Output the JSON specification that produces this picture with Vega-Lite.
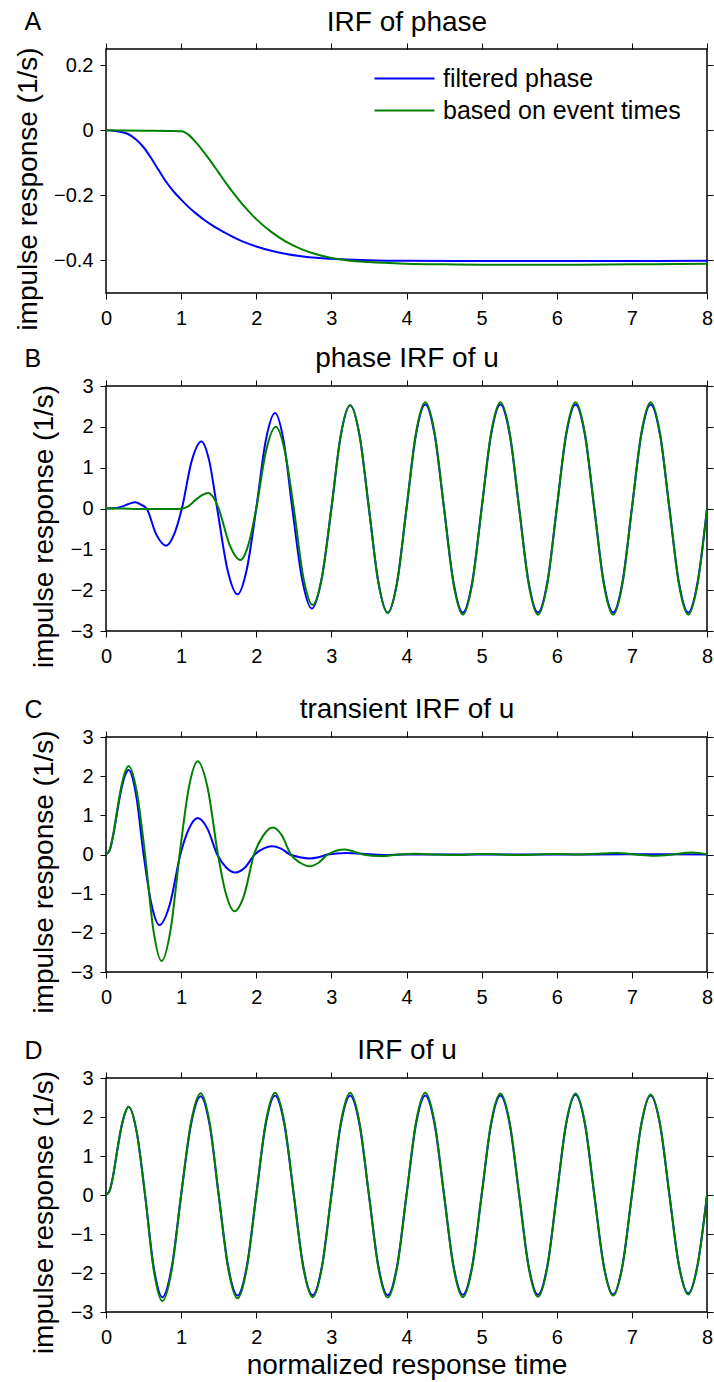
{
  "$schema": "https://vega.github.io/schema/vega-lite/v6.json",
  "padding": {"left": 13, "top": 7, "right": 0, "bottom": 0},
  "spacing": 12,
  "resolve": {"scale": {"color": "independent"}},
  "datasets": {
    "A": [
      {"s":"b","t":0,"v":0},{"s":"b","t":0.1,"v":-0.001},{"s":"b","t":0.2,"v":-0.005},{"s":"b","t":0.3,"v":-0.012},{"s":"b","t":0.4,"v":-0.028},{"s":"b","t":0.5,"v":-0.052},{"s":"b","t":0.6,"v":-0.085},{"s":"b","t":0.7,"v":-0.122},{"s":"b","t":0.8,"v":-0.158},{"s":"b","t":0.9,"v":-0.188},{"s":"b","t":1,"v":-0.213},{"s":"b","t":1.1,"v":-0.236},{"s":"b","t":1.2,"v":-0.256},{"s":"b","t":1.3,"v":-0.274},{"s":"b","t":1.4,"v":-0.29},{"s":"b","t":1.6,"v":-0.317},{"s":"b","t":1.8,"v":-0.34},{"s":"b","t":2,"v":-0.357},{"s":"b","t":2.2,"v":-0.37},{"s":"b","t":2.4,"v":-0.38},{"s":"b","t":2.6,"v":-0.387},{"s":"b","t":2.8,"v":-0.392},{"s":"b","t":3,"v":-0.395},{"s":"b","t":3.3,"v":-0.398},{"s":"b","t":3.6,"v":-0.4},{"s":"b","t":4,"v":-0.401},{"s":"b","t":5,"v":-0.402},{"s":"b","t":6,"v":-0.402},{"s":"b","t":7,"v":-0.402},{"s":"b","t":8,"v":-0.401},
      {"s":"g","t":0,"v":0},{"s":"g","t":0.5,"v":-0.001},{"s":"g","t":0.9,"v":-0.002},{"s":"g","t":1,"v":-0.003},{"s":"g","t":1.05,"v":-0.006},{"s":"g","t":1.1,"v":-0.014},{"s":"g","t":1.2,"v":-0.038},{"s":"g","t":1.3,"v":-0.066},{"s":"g","t":1.4,"v":-0.097},{"s":"g","t":1.5,"v":-0.13},{"s":"g","t":1.6,"v":-0.163},{"s":"g","t":1.7,"v":-0.194},{"s":"g","t":1.8,"v":-0.223},{"s":"g","t":1.9,"v":-0.249},{"s":"g","t":2,"v":-0.273},{"s":"g","t":2.2,"v":-0.312},{"s":"g","t":2.4,"v":-0.343},{"s":"g","t":2.6,"v":-0.365},{"s":"g","t":2.8,"v":-0.381},{"s":"g","t":3,"v":-0.392},{"s":"g","t":3.2,"v":-0.399},{"s":"g","t":3.5,"v":-0.405},{"s":"g","t":4,"v":-0.41},{"s":"g","t":4.5,"v":-0.412},{"s":"g","t":5,"v":-0.413},{"s":"g","t":6,"v":-0.413},{"s":"g","t":7,"v":-0.412},{"s":"g","t":8,"v":-0.41}
    ],
    "B": [
      {"s":"b","t":0,"v":0},{"s":"b","t":0.1,"v":0.005},{"s":"b","t":0.2,"v":0.04},{"s":"b","t":0.3,"v":0.11},{"s":"b","t":0.39,"v":0.155},{"s":"b","t":0.47,"v":0.09},{"s":"b","t":0.54,"v":0},{"s":"b","t":0.67,"v":-0.64},{"s":"b","t":0.8,"v":-0.91},{"s":"b","t":0.905,"v":-0.64},{"s":"b","t":1.01,"v":0},{"s":"b","t":1.14,"v":1.16},{"s":"b","t":1.27,"v":1.64},{"s":"b","t":1.375,"v":1.16},{"s":"b","t":1.48,"v":0},{"s":"b","t":1.615,"v":-1.48},{"s":"b","t":1.75,"v":-2.1},{"s":"b","t":1.875,"v":-1.48},{"s":"b","t":2,"v":0},{"s":"b","t":2.125,"v":1.65},{"s":"b","t":2.25,"v":2.34},{"s":"b","t":2.365,"v":1.65},{"s":"b","t":2.48,"v":0},{"s":"b","t":2.61,"v":-1.73},{"s":"b","t":2.74,"v":-2.45},{"s":"b","t":2.87,"v":-1.73},{"s":"b","t":3,"v":0},{"s":"b","t":3.125,"v":1.79},{"s":"b","t":3.25,"v":2.53},{"s":"b","t":3.375,"v":1.79},{"s":"b","t":3.5,"v":0},{"s":"b","t":3.625,"v":-1.8},{"s":"b","t":3.75,"v":-2.55},{"s":"b","t":3.875,"v":-1.8},{"s":"b","t":4,"v":0},{"s":"b","t":4.125,"v":1.8},{"s":"b","t":4.25,"v":2.55},{"s":"b","t":4.375,"v":1.8},{"s":"b","t":4.5,"v":0},{"s":"b","t":4.625,"v":-1.8},{"s":"b","t":4.75,"v":-2.55},{"s":"b","t":4.875,"v":-1.8},{"s":"b","t":5,"v":0},{"s":"b","t":5.125,"v":1.8},{"s":"b","t":5.25,"v":2.55},{"s":"b","t":5.375,"v":1.8},{"s":"b","t":5.5,"v":0},{"s":"b","t":5.625,"v":-1.8},{"s":"b","t":5.75,"v":-2.55},{"s":"b","t":5.875,"v":-1.8},{"s":"b","t":6,"v":0},{"s":"b","t":6.125,"v":1.8},{"s":"b","t":6.25,"v":2.55},{"s":"b","t":6.375,"v":1.8},{"s":"b","t":6.5,"v":0},{"s":"b","t":6.625,"v":-1.8},{"s":"b","t":6.75,"v":-2.55},{"s":"b","t":6.875,"v":-1.8},{"s":"b","t":7,"v":0},{"s":"b","t":7.125,"v":1.8},{"s":"b","t":7.25,"v":2.55},{"s":"b","t":7.375,"v":1.8},{"s":"b","t":7.5,"v":0},{"s":"b","t":7.625,"v":-1.8},{"s":"b","t":7.75,"v":-2.55},{"s":"b","t":7.875,"v":-1.8},{"s":"b","t":8,"v":0},
      {"s":"g","t":0,"v":0},{"s":"g","t":0.3,"v":-0.005},{"s":"g","t":0.6,"v":-0.015},{"s":"g","t":0.9,"v":-0.015},{"s":"g","t":1,"v":-0.005},{"s":"g","t":1.1,"v":0.06},{"s":"g","t":1.2,"v":0.22},{"s":"g","t":1.28,"v":0.33},{"s":"g","t":1.36,"v":0.38},{"s":"g","t":1.43,"v":0.27},{"s":"g","t":1.5,"v":0},{"s":"g","t":1.645,"v":-0.89},{"s":"g","t":1.79,"v":-1.26},{"s":"g","t":1.895,"v":-0.89},{"s":"g","t":2,"v":0},{"s":"g","t":2.13,"v":1.41},{"s":"g","t":2.26,"v":2.0},{"s":"g","t":2.38,"v":1.41},{"s":"g","t":2.5,"v":0},{"s":"g","t":2.625,"v":-1.67},{"s":"g","t":2.75,"v":-2.36},{"s":"g","t":2.875,"v":-1.67},{"s":"g","t":3,"v":0},{"s":"g","t":3.125,"v":1.79},{"s":"g","t":3.25,"v":2.53},{"s":"g","t":3.375,"v":1.79},{"s":"g","t":3.5,"v":0},{"s":"g","t":3.625,"v":-1.81},{"s":"g","t":3.75,"v":-2.56},{"s":"g","t":3.875,"v":-1.81},{"s":"g","t":4,"v":0},{"s":"g","t":4.125,"v":1.84},{"s":"g","t":4.25,"v":2.6},{"s":"g","t":4.375,"v":1.84},{"s":"g","t":4.5,"v":0},{"s":"g","t":4.625,"v":-1.84},{"s":"g","t":4.75,"v":-2.6},{"s":"g","t":4.875,"v":-1.84},{"s":"g","t":5,"v":0},{"s":"g","t":5.125,"v":1.84},{"s":"g","t":5.25,"v":2.6},{"s":"g","t":5.375,"v":1.84},{"s":"g","t":5.5,"v":0},{"s":"g","t":5.625,"v":-1.84},{"s":"g","t":5.75,"v":-2.6},{"s":"g","t":5.875,"v":-1.84},{"s":"g","t":6,"v":0},{"s":"g","t":6.125,"v":1.84},{"s":"g","t":6.25,"v":2.6},{"s":"g","t":6.375,"v":1.84},{"s":"g","t":6.5,"v":0},{"s":"g","t":6.625,"v":-1.84},{"s":"g","t":6.75,"v":-2.6},{"s":"g","t":6.875,"v":-1.84},{"s":"g","t":7,"v":0},{"s":"g","t":7.125,"v":1.84},{"s":"g","t":7.25,"v":2.6},{"s":"g","t":7.375,"v":1.84},{"s":"g","t":7.5,"v":0},{"s":"g","t":7.625,"v":-1.84},{"s":"g","t":7.75,"v":-2.6},{"s":"g","t":7.875,"v":-1.84},{"s":"g","t":8,"v":0}
    ],
    "C": [
      {"s":"b","t":0,"v":0},{"s":"b","t":0.05,"v":0.12},{"s":"b","t":0.1,"v":0.53},{"s":"b","t":0.15,"v":1.1},{"s":"b","t":0.2,"v":1.63},{"s":"b","t":0.25,"v":2.0},{"s":"b","t":0.3,"v":2.16},{"s":"b","t":0.4,"v":1.53},{"s":"b","t":0.5,"v":0},{"s":"b","t":0.605,"v":-1.27},{"s":"b","t":0.71,"v":-1.8},{"s":"b","t":0.85,"v":-1.27},{"s":"b","t":0.99,"v":0},{"s":"b","t":1.105,"v":0.66},{"s":"b","t":1.22,"v":0.93},{"s":"b","t":1.35,"v":0.66},{"s":"b","t":1.48,"v":0},{"s":"b","t":1.6,"v":-0.33},{"s":"b","t":1.72,"v":-0.46},{"s":"b","t":1.85,"v":-0.33},{"s":"b","t":1.98,"v":0},{"s":"b","t":2.095,"v":0.15},{"s":"b","t":2.21,"v":0.21},{"s":"b","t":2.33,"v":0.15},{"s":"b","t":2.45,"v":0},{"s":"b","t":2.58,"v":-0.07},{"s":"b","t":2.71,"v":-0.1},{"s":"b","t":2.83,"v":-0.07},{"s":"b","t":2.95,"v":0},{"s":"b","t":3.2,"v":0.04},{"s":"b","t":3.45,"v":0.01},{"s":"b","t":3.7,"v":-0.01},{"s":"b","t":4,"v":0},{"s":"b","t":5,"v":0},{"s":"b","t":6,"v":0},{"s":"b","t":7,"v":0.005},{"s":"b","t":8,"v":0},
      {"s":"g","t":0,"v":0},{"s":"g","t":0.05,"v":0.12},{"s":"g","t":0.1,"v":0.55},{"s":"g","t":0.15,"v":1.15},{"s":"g","t":0.2,"v":1.7},{"s":"g","t":0.25,"v":2.08},{"s":"g","t":0.3,"v":2.26},{"s":"g","t":0.41,"v":1.6},{"s":"g","t":0.52,"v":0},{"s":"g","t":0.63,"v":-1.92},{"s":"g","t":0.74,"v":-2.72},{"s":"g","t":0.86,"v":-1.92},{"s":"g","t":0.98,"v":0},{"s":"g","t":1.1,"v":1.68},{"s":"g","t":1.22,"v":2.38},{"s":"g","t":1.355,"v":1.68},{"s":"g","t":1.49,"v":0},{"s":"g","t":1.6,"v":-1.03},{"s":"g","t":1.71,"v":-1.45},{"s":"g","t":1.84,"v":-1.03},{"s":"g","t":1.97,"v":0},{"s":"g","t":2.095,"v":0.49},{"s":"g","t":2.22,"v":0.69},{"s":"g","t":2.34,"v":0.49},{"s":"g","t":2.46,"v":0},{"s":"g","t":2.585,"v":-0.21},{"s":"g","t":2.71,"v":-0.3},{"s":"g","t":2.83,"v":-0.21},{"s":"g","t":2.95,"v":0},{"s":"g","t":3.18,"v":0.13},{"s":"g","t":3.42,"v":0},{"s":"g","t":3.65,"v":-0.04},{"s":"g","t":3.9,"v":0},{"s":"g","t":4.1,"v":0.02},{"s":"g","t":4.4,"v":0},{"s":"g","t":4.7,"v":-0.01},{"s":"g","t":5,"v":0.01},{"s":"g","t":5.5,"v":-0.01},{"s":"g","t":6,"v":0.01},{"s":"g","t":6.3,"v":0},{"s":"g","t":6.8,"v":0.04},{"s":"g","t":7.05,"v":0},{"s":"g","t":7.3,"v":-0.03},{"s":"g","t":7.55,"v":0},{"s":"g","t":7.8,"v":0.05},{"s":"g","t":8,"v":0}
    ],
    "D": [
      {"s":"b","t":0,"v":0},{"s":"b","t":0.05,"v":0.12},{"s":"b","t":0.1,"v":0.55},{"s":"b","t":0.15,"v":1.15},{"s":"b","t":0.2,"v":1.7},{"s":"b","t":0.25,"v":2.08},{"s":"b","t":0.3,"v":2.26},{"s":"b","t":0.41,"v":1.6},{"s":"b","t":0.52,"v":0},{"s":"b","t":0.635,"v":-1.85},{"s":"b","t":0.75,"v":-2.62},{"s":"b","t":0.875,"v":-1.85},{"s":"b","t":1,"v":0},{"s":"b","t":1.13,"v":1.79},{"s":"b","t":1.26,"v":2.53},{"s":"b","t":1.38,"v":1.79},{"s":"b","t":1.5,"v":0},{"s":"b","t":1.625,"v":-1.82},{"s":"b","t":1.75,"v":-2.58},{"s":"b","t":1.875,"v":-1.82},{"s":"b","t":2,"v":0},{"s":"b","t":2.125,"v":1.8},{"s":"b","t":2.25,"v":2.55},{"s":"b","t":2.375,"v":1.8},{"s":"b","t":2.5,"v":0},{"s":"b","t":2.625,"v":-1.82},{"s":"b","t":2.75,"v":-2.57},{"s":"b","t":2.875,"v":-1.82},{"s":"b","t":3,"v":0},{"s":"b","t":3.125,"v":1.8},{"s":"b","t":3.25,"v":2.55},{"s":"b","t":3.375,"v":1.8},{"s":"b","t":3.5,"v":0},{"s":"b","t":3.625,"v":-1.82},{"s":"b","t":3.75,"v":-2.57},{"s":"b","t":3.875,"v":-1.82},{"s":"b","t":4,"v":0},{"s":"b","t":4.125,"v":1.8},{"s":"b","t":4.25,"v":2.55},{"s":"b","t":4.375,"v":1.8},{"s":"b","t":4.5,"v":0},{"s":"b","t":4.625,"v":-1.81},{"s":"b","t":4.75,"v":-2.56},{"s":"b","t":4.875,"v":-1.81},{"s":"b","t":5,"v":0},{"s":"b","t":5.125,"v":1.8},{"s":"b","t":5.25,"v":2.55},{"s":"b","t":5.375,"v":1.8},{"s":"b","t":5.5,"v":0},{"s":"b","t":5.625,"v":-1.81},{"s":"b","t":5.75,"v":-2.56},{"s":"b","t":5.875,"v":-1.81},{"s":"b","t":6,"v":0},{"s":"b","t":6.125,"v":1.82},{"s":"b","t":6.25,"v":2.57},{"s":"b","t":6.375,"v":1.82},{"s":"b","t":6.5,"v":0},{"s":"b","t":6.625,"v":-1.8},{"s":"b","t":6.75,"v":-2.55},{"s":"b","t":6.875,"v":-1.8},{"s":"b","t":7,"v":0},{"s":"b","t":7.125,"v":1.8},{"s":"b","t":7.25,"v":2.55},{"s":"b","t":7.375,"v":1.8},{"s":"b","t":7.5,"v":0},{"s":"b","t":7.625,"v":-1.78},{"s":"b","t":7.75,"v":-2.52},{"s":"b","t":7.875,"v":-1.78},{"s":"b","t":8,"v":0},
      {"s":"g","t":0,"v":0},{"s":"g","t":0.05,"v":0.12},{"s":"g","t":0.1,"v":0.55},{"s":"g","t":0.15,"v":1.15},{"s":"g","t":0.2,"v":1.7},{"s":"g","t":0.25,"v":2.08},{"s":"g","t":0.3,"v":2.26},{"s":"g","t":0.41,"v":1.6},{"s":"g","t":0.52,"v":0},{"s":"g","t":0.635,"v":-1.92},{"s":"g","t":0.75,"v":-2.72},{"s":"g","t":0.875,"v":-1.92},{"s":"g","t":1,"v":0},{"s":"g","t":1.13,"v":1.85},{"s":"g","t":1.26,"v":2.61},{"s":"g","t":1.38,"v":1.85},{"s":"g","t":1.5,"v":0},{"s":"g","t":1.625,"v":-1.87},{"s":"g","t":1.75,"v":-2.65},{"s":"g","t":1.875,"v":-1.87},{"s":"g","t":2,"v":0},{"s":"g","t":2.125,"v":1.85},{"s":"g","t":2.25,"v":2.62},{"s":"g","t":2.375,"v":1.85},{"s":"g","t":2.5,"v":0},{"s":"g","t":2.625,"v":-1.85},{"s":"g","t":2.75,"v":-2.62},{"s":"g","t":2.875,"v":-1.85},{"s":"g","t":3,"v":0},{"s":"g","t":3.125,"v":1.85},{"s":"g","t":3.25,"v":2.62},{"s":"g","t":3.375,"v":1.85},{"s":"g","t":3.5,"v":0},{"s":"g","t":3.625,"v":-1.86},{"s":"g","t":3.75,"v":-2.63},{"s":"g","t":3.875,"v":-1.86},{"s":"g","t":4,"v":0},{"s":"g","t":4.125,"v":1.85},{"s":"g","t":4.25,"v":2.62},{"s":"g","t":4.375,"v":1.85},{"s":"g","t":4.5,"v":0},{"s":"g","t":4.625,"v":-1.85},{"s":"g","t":4.75,"v":-2.62},{"s":"g","t":4.875,"v":-1.85},{"s":"g","t":5,"v":0},{"s":"g","t":5.125,"v":1.84},{"s":"g","t":5.25,"v":2.6},{"s":"g","t":5.375,"v":1.84},{"s":"g","t":5.5,"v":0},{"s":"g","t":5.625,"v":-1.85},{"s":"g","t":5.75,"v":-2.61},{"s":"g","t":5.875,"v":-1.85},{"s":"g","t":6,"v":0},{"s":"g","t":6.125,"v":1.84},{"s":"g","t":6.25,"v":2.6},{"s":"g","t":6.375,"v":1.84},{"s":"g","t":6.5,"v":0},{"s":"g","t":6.625,"v":-1.82},{"s":"g","t":6.75,"v":-2.58},{"s":"g","t":6.875,"v":-1.82},{"s":"g","t":7,"v":0},{"s":"g","t":7.125,"v":1.82},{"s":"g","t":7.25,"v":2.58},{"s":"g","t":7.375,"v":1.82},{"s":"g","t":7.5,"v":0},{"s":"g","t":7.625,"v":-1.8},{"s":"g","t":7.75,"v":-2.55},{"s":"g","t":7.875,"v":-1.8},{"s":"g","t":8,"v":0}
    ]
  },
  "vconcat": [
    {
      "width": 601, "height": 244,
      "data": {"name": "A"},
      "layer": [
        {
          "mark": {"type": "line", "opacity": 0},
          "encoding": {
            "x": {"field": "t", "type": "quantitative", "scale": {"domain": [0, 8], "nice": false}, "axis": {"orient": "top", "values": [0,1,2,3,4,5,6,7,8], "labels": false, "title": "IRF of phase", "titleY": -19, "titleBaseline": "alphabetic"}},
            "y": {"field": "v", "type": "quantitative", "scale": {"domain": [-0.5, 0.25], "nice": false, "zero": false}, "axis": {"orient": "right", "values": [-0.4,-0.2,0,0.2], "labels": false, "title": "A", "titleAngle": 0, "titleX": -683, "titleY": -19.5, "titleAlign": "left", "titleBaseline": "alphabetic", "titleFontSize": 25}}
          }
        },
        {
          "mark": {"type": "line", "strokeWidth": 2, "interpolate": "monotone", "clip": true},
          "encoding": {
            "x": {"field": "t", "type": "quantitative", "axis": {"orient": "bottom", "values": [0,1,2,3,4,5,6,7,8], "format": "~g", "title": null}},
            "y": {"field": "v", "type": "quantitative", "axis": {"orient": "left", "values": [-0.4,-0.2,0,0.2], "format": "~g", "title": "impulse response (1/s)", "titleY": 139.5}},
            "color": {"field": "s", "type": "nominal", "scale": {"domain": ["b","g"], "range": ["#0000ff","#008000"]},
              "legend": {"orient": "none", "legendX": 306, "legendY": 17, "title": null, "labelExpr": "datum.value == 'b' ? 'filtered phase' : 'based on event times'", "labelLimit": 0, "symbolType": "M-5,0H1", "symbolSize": 400, "symbolStrokeWidth": 2, "labelFontSize": 25, "labelColor": "black", "labelOffset": 6, "rowPadding": 6, "padding": 0}}
          }
        }
      ],
      "resolve": {"axis": {"x": "independent", "y": "independent"}}
    },
    {
      "width": 601, "height": 245,
      "data": {"name": "B"},
      "layer": [
        {
          "mark": {"type": "line", "opacity": 0},
          "encoding": {
            "x": {"field": "t", "type": "quantitative", "scale": {"domain": [0, 8], "nice": false}, "axis": {"orient": "top", "values": [0,1,2,3,4,5,6,7,8], "labels": false, "title": "phase IRF of u", "titleY": -19.5, "titleBaseline": "alphabetic"}},
            "y": {"field": "v", "type": "quantitative", "scale": {"domain": [-3, 3], "nice": false}, "axis": {"orient": "right", "values": [-3,-2,-1,0,1,2,3], "labels": false, "title": "B", "titleAngle": 0, "titleX": -683, "titleY": -19.5, "titleAlign": "left", "titleBaseline": "alphabetic", "titleFontSize": 25}}
          }
        },
        {
          "mark": {"type": "line", "strokeWidth": 2, "interpolate": "monotone", "clip": true},
          "encoding": {
            "x": {"field": "t", "type": "quantitative", "axis": {"orient": "bottom", "values": [0,1,2,3,4,5,6,7,8], "format": "~g", "title": " ", "titleFontSize": 2, "titlePadding": 12.5}},
            "y": {"field": "v", "type": "quantitative", "axis": {"orient": "left", "values": [-3,-2,-1,0,1,2,3], "format": "~g", "title": "impulse response (1/s)", "titleY": 140}},
            "color": {"field": "s", "type": "nominal", "scale": {"domain": ["b","g"], "range": ["#0000ff","#008000"]}, "legend": null}
          }
        }
      ],
      "resolve": {"axis": {"x": "independent", "y": "independent"}}
    },
    {
      "width": 601, "height": 235,
      "data": {"name": "C"},
      "layer": [
        {
          "mark": {"type": "line", "opacity": 0},
          "encoding": {
            "x": {"field": "t", "type": "quantitative", "scale": {"domain": [0, 8], "nice": false}, "axis": {"orient": "top", "values": [0,1,2,3,4,5,6,7,8], "labels": false, "title": "transient IRF of u", "titleY": -19.5, "titleBaseline": "alphabetic"}},
            "y": {"field": "v", "type": "quantitative", "scale": {"domain": [-3, 3], "nice": false}, "axis": {"orient": "right", "values": [-3,-2,-1,0,1,2,3], "labels": false, "title": "C", "titleAngle": 0, "titleX": -683, "titleY": -19.5, "titleAlign": "left", "titleBaseline": "alphabetic", "titleFontSize": 25}}
          }
        },
        {
          "mark": {"type": "line", "strokeWidth": 2, "interpolate": "monotone", "clip": true},
          "encoding": {
            "x": {"field": "t", "type": "quantitative", "axis": {"orient": "bottom", "values": [0,1,2,3,4,5,6,7,8], "format": "~g", "title": " ", "titleFontSize": 2, "titlePadding": 12.5}},
            "y": {"field": "v", "type": "quantitative", "axis": {"orient": "left", "values": [-3,-2,-1,0,1,2,3], "format": "~g", "title": "impulse response (1/s)", "titleY": 134.5}},
            "color": {"field": "s", "type": "nominal", "scale": {"domain": ["b","g"], "range": ["#0000ff","#008000"]}, "legend": null}
          }
        }
      ],
      "resolve": {"axis": {"x": "independent", "y": "independent"}}
    },
    {
      "width": 601, "height": 234,
      "data": {"name": "D"},
      "layer": [
        {
          "mark": {"type": "line", "opacity": 0},
          "encoding": {
            "x": {"field": "t", "type": "quantitative", "scale": {"domain": [0, 8], "nice": false}, "axis": {"orient": "top", "values": [0,1,2,3,4,5,6,7,8], "labels": false, "title": "IRF of u", "titleY": -19.5, "titleBaseline": "alphabetic"}},
            "y": {"field": "v", "type": "quantitative", "scale": {"domain": [-3, 3], "nice": false}, "axis": {"orient": "right", "values": [-3,-2,-1,0,1,2,3], "labels": false, "title": "D", "titleAngle": 0, "titleX": -683, "titleY": -19.5, "titleAlign": "left", "titleBaseline": "alphabetic", "titleFontSize": 25}}
          }
        },
        {
          "mark": {"type": "line", "strokeWidth": 2, "interpolate": "monotone", "clip": true},
          "encoding": {
            "x": {"field": "t", "type": "quantitative", "axis": {"orient": "bottom", "values": [0,1,2,3,4,5,6,7,8], "format": "~g", "title": "normalized response time", "titlePadding": 4}},
            "y": {"field": "v", "type": "quantitative", "axis": {"orient": "left", "values": [-3,-2,-1,0,1,2,3], "format": "~g", "title": "impulse response (1/s)", "titleY": 134}},
            "color": {"field": "s", "type": "nominal", "scale": {"domain": ["b","g"], "range": ["#0000ff","#008000"]}, "legend": null}
          }
        }
      ],
      "resolve": {"axis": {"x": "independent", "y": "independent"}}
    }
  ],
  "config": {
    "font": "Liberation Sans",
    "view": {"stroke": "black", "strokeWidth": 1.5},
    "axis": {"grid": false, "domain": false, "ticks": true, "tickColor": "black", "tickSize": 6, "tickWidth": 1, "labelFontSize": 20, "labelColor": "black", "labelFlush": false, "titleFontSize": 28, "titleFontWeight": "normal", "titleColor": "black"},
    "axisX": {"labelPadding": 9},
    "axisY": {"labelPadding": 7, "titlePadding": 11.5}
  }
}
